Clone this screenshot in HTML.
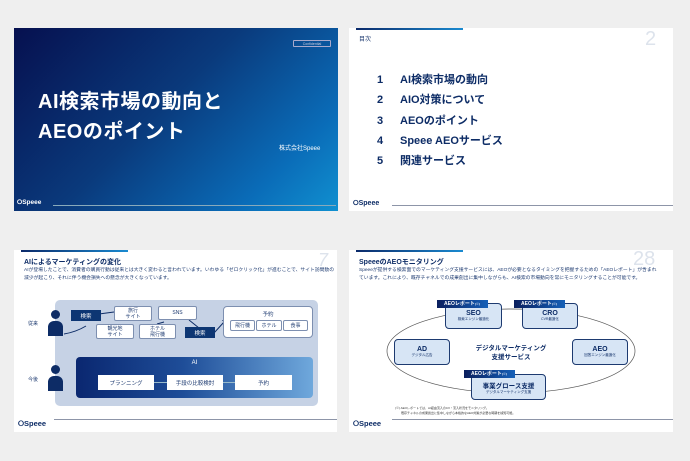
<!DOCTYPE html>
<html><head><meta charset="utf-8"><style>
*{margin:0;padding:0;box-sizing:border-box}
body{width:690px;height:461px;background:#efefef;position:relative;overflow:hidden;font-family:"Liberation Sans","Noto Sans CJK JP",sans-serif}
.a{position:absolute}
.s{position:absolute;background:#fff;overflow:hidden}
.c{display:flex;align-items:center;justify-content:center;text-align:center}
.bx{position:absolute;background:#fff;border:1px solid #7d8fb0;border-radius:2px;font-size:5px;color:#1d3a70;line-height:6px}
.dk{position:absolute;background:#0d3673;color:#fff;font-size:5.5px}
.wb{position:absolute;background:#fff;color:#1d3a70;font-size:5.5px}
.lb{position:absolute;background:#d7e5f5;border:1.2px solid #1d3a70;border-radius:4px;color:#0d2c66}
.tag{position:absolute;background:linear-gradient(90deg,#0b1f5e,#1560b8);color:#fff;font-size:5px;font-weight:bold;height:8px;line-height:8px;padding-left:7px}
.foot{position:absolute;left:4px;bottom:3px;font-size:7px;font-weight:bold;color:#0d2c66}
.fl{position:absolute;height:1px;background:#8d95a8}
</style></head><body>

<!-- Slide 1 -->
<div class="s" style="left:14px;top:28px;width:324px;height:183px;background:linear-gradient(135deg,#06104f 0%,#0a3a7c 45%,#0a6cb8 80%,#1090d0 100%)">
 <div class="a c" style="left:279px;top:12px;width:38px;height:7px;border:0.8px solid #aac;border-radius:1px;color:#ccd;font-size:3.5px">Confidential</div>
 <div class="a" style="left:24px;top:59px;color:#fff;font-size:20px;font-weight:bold;line-height:30px;letter-spacing:0.5px">AI検索市場の動向と<br>AEOのポイント</div>
 <div class="a" style="left:265px;top:115px;color:#fff;font-size:6px">株式会社Speee</div>
 <div class="a" style="left:3px;top:171px;color:#fff;font-size:6.5px;font-weight:bold">⭘Speee</div>
 <div class="a" style="left:39px;top:177px;width:283px;height:1px;background:#8ab"></div>
</div>

<!-- Slide 2 -->
<div class="s" style="left:349px;top:28px;width:324px;height:183px">
 <div class="a" style="left:7px;top:0;width:107px;height:2px;background:linear-gradient(90deg,#0b2a6a,#1a8ad0)"></div>
 <div class="a" style="left:10px;top:6px;font-size:6px;color:#1d3a70">目次</div>
 <div class="a" style="left:296px;top:0;font-size:20px;color:#dde3ec">2</div>
 <div class="a" style="left:28px;top:42px;font-size:11px;font-weight:bold;color:#0d2c66;line-height:20.3px">1<br>2<br>3<br>4<br>5</div>
 <div class="a" style="left:51px;top:42px;font-size:11px;font-weight:bold;color:#0d2c66;line-height:20.3px;white-space:nowrap">AI検索市場の動向<br>AIO対策について<br>AEOのポイント<br>Speee AEOサービス<br>関連サービス</div>
 <div class="foot">⭘Speee</div>
 <div class="fl" style="left:43px;top:177px;width:281px"></div>
</div>

<!-- Slide 3 -->
<div class="s" style="left:14px;top:250px;width:323px;height:182px">
 <div class="a" style="left:7px;top:0;width:107px;height:2px;background:linear-gradient(90deg,#0b2a6a,#1a8ad0)"></div>
 <div class="a" style="left:10px;top:7px;font-size:7px;font-weight:bold;color:#0d2c66">AIによるマーケティングの変化</div>
 <div class="a" style="left:304px;top:0;font-size:18px;color:#dde3ec;font-style:italic">7</div>
 <div class="a" style="left:10px;top:17px;font-size:4.8px;color:#1d3a70;line-height:8px;width:310px">AIが登場したことで、消費者の購買行動は従来とは大きく変わると言われています。いわゆる「ゼロクリック化」が進むことで、サイト訪問数の減少が起こり、それに伴う機会損失への懸念が大きくなっています。</div>
 <div class="a" style="left:41px;top:50px;width:263px;height:106px;background:#c6d2e5;border-radius:5px"></div>
 <div class="a" style="left:37px;top:60px;width:9px;height:9px;border-radius:50%;background:#0d2c66"></div>
 <div class="a" style="left:34px;top:71px;width:15px;height:15px;border-radius:6px 6px 0 0;background:#0d2c66"></div>
 <div class="a" style="left:37px;top:115px;width:9px;height:9px;border-radius:50%;background:#0d2c66"></div>
 <div class="a" style="left:34px;top:126px;width:15px;height:15px;border-radius:6px 6px 0 0;background:#0d2c66"></div>
 <div class="a" style="left:14px;top:70px;font-size:5px;color:#1d3a70">従来</div>
 <div class="a" style="left:14px;top:126px;font-size:5px;color:#1d3a70">今後</div>
 <svg class="a" style="left:0;top:0" width="323" height="182"><g fill="none" stroke="#0d2c66" stroke-width="1"><path d="M50 84 Q62 82 72 76"/><path d="M85 64 L100 62"/><path d="M175 70 L185 78"/><path d="M200 83 L210 72"/><path d="M150 72 L143 74"/></g><path d="M208 70 l4 0 l-1 4z" fill="#0d2c66"/></svg>
 <div class="dk c" style="left:57px;top:60px;width:30px;height:11px">検索</div>
 <div class="bx c" style="left:100px;top:56px;width:38px;height:15px">旅行<br>サイト</div>
 <div class="bx c" style="left:144px;top:56px;width:39px;height:14px">SNS</div>
 <div class="bx c" style="left:82px;top:74px;width:38px;height:15px">観光地<br>サイト</div>
 <div class="bx c" style="left:125px;top:74px;width:37px;height:15px">ホテル<br>飛行機</div>
 <div class="dk c" style="left:171px;top:77px;width:30px;height:11px">検索</div>
 <div class="bx" style="left:209px;top:56px;width:90px;height:32px;border-radius:4px"><div style="text-align:center;margin-top:5px;font-size:5.5px">予約</div></div>
 <div class="bx c" style="left:216px;top:70px;width:25px;height:11px">飛行機</div>
 <div class="bx c" style="left:242px;top:70px;width:26px;height:11px">ホテル</div>
 <div class="bx c" style="left:269px;top:70px;width:25px;height:11px">食事</div>
 <div class="a" style="left:62px;top:107px;width:237px;height:41px;border-radius:4px;background:linear-gradient(90deg,#0a2770 0%,#1e4d98 45%,#6fa8dc 100%)"></div>
 <div class="a" style="left:62px;top:110px;width:237px;text-align:center;color:#fff;font-size:6px">AI</div>
 <div class="wb c" style="left:84px;top:125px;width:56px;height:15px">プランニング</div>
 <div class="wb c" style="left:153px;top:125px;width:56px;height:15px">手段の比較検討</div>
 <div class="wb c" style="left:221px;top:125px;width:57px;height:15px">予約</div>
 <div class="a" style="left:140px;top:132px;width:13px;height:1px;background:#9bc"></div>
 <div class="a" style="left:209px;top:132px;width:12px;height:1px;background:#9bc"></div>
 <div class="foot" style="font-size:7.5px">⭘Speee</div>
 <div class="fl" style="left:40px;top:169px;width:283px"></div>
</div>

<!-- Slide 4 -->
<div class="s" style="left:349px;top:250px;width:324px;height:182px">
 <div class="a" style="left:7px;top:0;width:107px;height:2px;background:linear-gradient(90deg,#0b2a6a,#1a8ad0)"></div>
 <div class="a" style="left:10px;top:7px;font-size:7px;font-weight:bold;color:#0d2c66">SpeeeのAEOモニタリング</div>
 <div class="a" style="left:284px;top:-2px;font-size:20px;color:#dde3ec">28</div>
 <div class="a" style="left:10px;top:17px;font-size:4.8px;color:#1d3a70;line-height:8px;width:300px">Speeeが提供する検索面でのマーケティング支援サービスには、AEOが必要となるタイミングを把握するための「AEOレポート」が含まれています。これにより、既存チャネルでの成果創出に集中しながらも、AI検索の市場動向を常にモニタリングすることが可能です。</div>
 <svg class="a" style="left:0;top:0" width="324" height="182"><ellipse cx="162" cy="101" rx="124" ry="42" fill="none" stroke="#555" stroke-width="0.7"/></svg>
 <div class="lb c" style="left:96px;top:53px;width:57px;height:26px;flex-direction:column"><b style="font-size:7px">SEO</b><span style="font-size:3.5px">検索エンジン最適化</span></div>
 <div class="tag" style="left:88px;top:50px;width:51px">AEOレポート<span style="font-size:3px">(※)</span></div>
 <div class="lb c" style="left:173px;top:53px;width:56px;height:26px;flex-direction:column"><b style="font-size:7px">CRO</b><span style="font-size:3.5px">CVR最適化</span></div>
 <div class="tag" style="left:165px;top:50px;width:51px">AEOレポート<span style="font-size:3px">(※)</span></div>
 <div class="lb c" style="left:45px;top:89px;width:56px;height:26px;flex-direction:column"><b style="font-size:7px">AD</b><span style="font-size:3.5px">デジタル広告</span></div>
 <div class="lb c" style="left:223px;top:89px;width:56px;height:26px;flex-direction:column"><b style="font-size:7px">AEO</b><span style="font-size:3.5px">回答エンジン最適化</span></div>
 <div class="lb c" style="left:122px;top:124px;width:75px;height:26px;flex-direction:column"><b style="font-size:6.5px">事業グロース支援</b><span style="font-size:3.5px">デジタルマーケティング支援</span></div>
 <div class="tag" style="left:115px;top:120px;width:51px">AEOレポート<span style="font-size:3px">(※)</span></div>
 <div class="a" style="left:112px;top:94px;width:100px;text-align:center;font-size:6.5px;font-weight:bold;color:#0d2c66;line-height:9px">デジタルマーケティング<br>支援サービス</div>
 <div class="a" style="left:46px;top:156px;font-size:3px;color:#333;line-height:5px;white-space:nowrap">(※) AEOレポートでは、AI経由流入のCV・流入状況をモニタリング。<br>　　既存チャネルの成果創出に集中しながら本格的なAEO対策が必要な時期を検知可能。</div>
 <div class="foot" style="font-size:7.5px">⭘Speee</div>
 <div class="fl" style="left:43px;top:169px;width:281px"></div>
</div>

</body></html>
